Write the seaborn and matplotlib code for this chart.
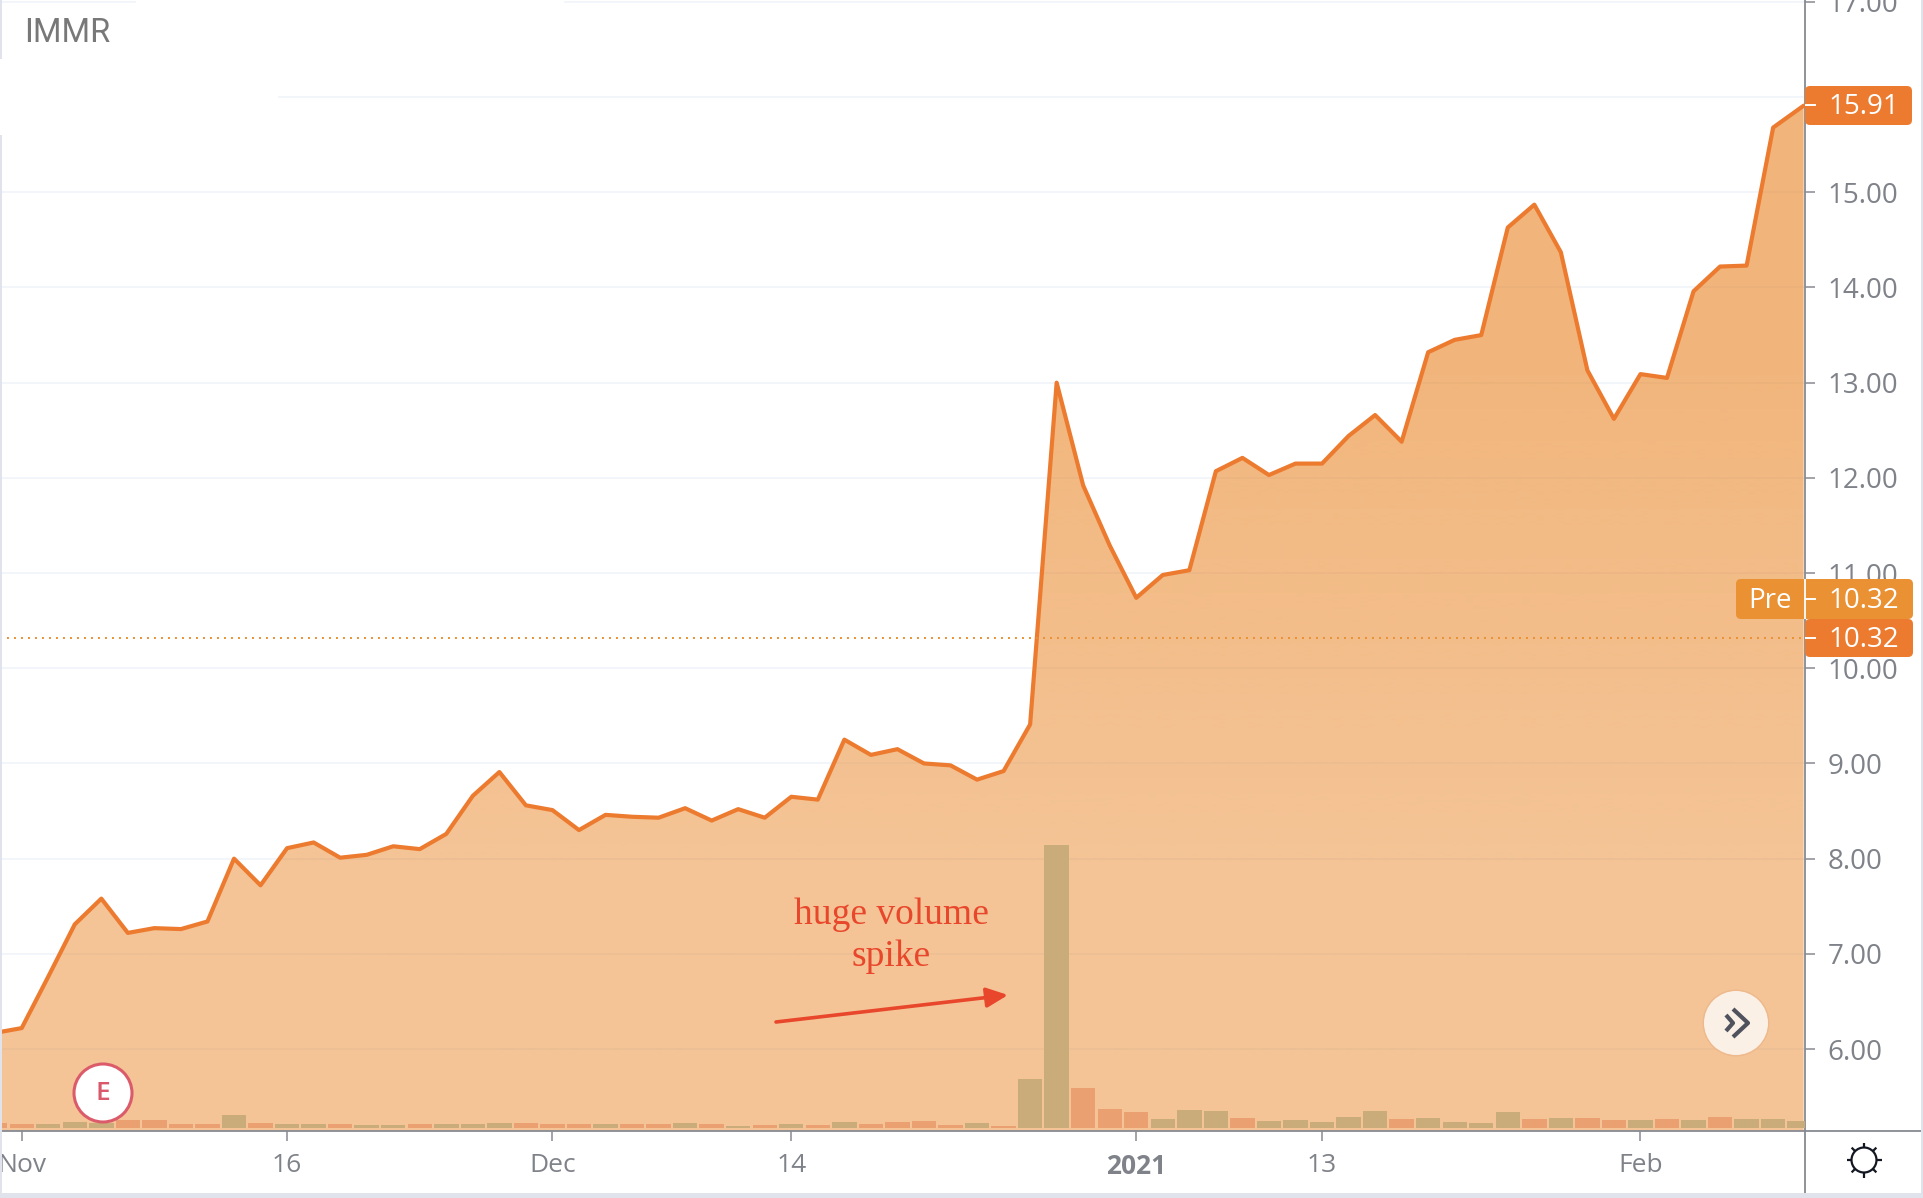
import numpy as np
import pandas as pd
import matplotlib
matplotlib.use('Agg')
import matplotlib.pyplot as plt
import seaborn as sns
from matplotlib.lines import Line2D
from matplotlib.patches import Circle, FancyArrowPatch, FancyBboxPatch, Rectangle
from matplotlib.transforms import IdentityTransform

# Closing prices, one per trading day (day 0 is the Nov tick)
price_days = list(range(-1, 67)) + [67.15]
price = [6.17, 6.22, 6.76, 7.31, 7.58, 7.22, 7.27, 7.26, 7.34, 8.00,
         7.72, 8.11, 8.17, 8.01, 8.04, 8.13, 8.10, 8.26, 8.66, 8.91,
         8.56, 8.51, 8.30, 8.46, 8.44, 8.43, 8.53, 8.40, 8.52, 8.43,
         8.65, 8.62, 9.25, 9.09, 9.15, 9.00, 8.98, 8.83, 8.92, 9.41,
         13.00, 11.92, 11.29, 10.74, 10.98, 11.03, 12.07, 12.21, 12.03, 12.15,
         12.15, 12.44, 12.66, 12.38, 13.32, 13.45, 13.50, 14.63, 14.87, 14.37,
         13.13, 12.62, 13.09, 13.05, 13.96, 14.22, 14.23, 15.68, 15.91]

# Volume (relative), same days as the prices
volume_days = list(range(-1, 68))
volume = [5, 4, 4, 6, 5, 8, 8, 4, 4, 13,
          5, 4, 4, 4, 3, 3, 4, 4, 4, 5,
          5, 4, 4, 4, 4, 4, 5, 4, 2.5, 3,
          4, 3, 6, 4, 6, 7, 3, 5, 2, 49,
          283, 40, 19.5, 16, 9.5, 18, 17, 10, 7, 8,
          6, 11.5, 17, 9, 10.5, 6, 5, 16, 9.5, 10,
          10.5, 8, 8, 9.5, 8, 11.5, 9.5, 9.5, 7]
volume_kind = ['down', 'down', 'up', 'up', 'up', 'down', 'down', 'down', 'down', 'up',
               'down', 'up', 'up', 'down', 'up', 'up', 'down', 'up', 'up', 'up',
               'down', 'down', 'down', 'up', 'down', 'down', 'up', 'down', 'up', 'down',
               'up', 'down', 'up', 'down', 'down', 'down', 'down', 'up', 'down', 'up',
               'up', 'down', 'down', 'down', 'up', 'up', 'up', 'down', 'up', 'up',
               'up', 'up', 'up', 'down', 'up', 'up', 'up', 'up', 'down', 'up',
               'down', 'down', 'up', 'down', 'up', 'down', 'up', 'up', 'up']

x_tick_days = [0, 10, 20, 29, 42, 49, 61]
x_tick_labels = ['Nov', '16', 'Dec', '14', '2021', '13', 'Feb']
y_ticks = [6, 7, 8, 9, 10, 11, 12, 13, 14, 15, 16, 17]
y_tick_labels = ['6.00', '7.00', '8.00', '9.00', '10.00', '11.00', '12.00',
                 '13.00', '14.00', '15.00', '', '17.00']
last_price = 10.32

W, H = 1924, 1198
AXIS_X, AXIS_Y = 1805, 1131
GREY = '#7f8289'
LINE = '#878a91'
ORANGE = '#ec7b2f'
AMBER = '#e99133'
BORDER = '#e0e3eb'
PIXELS = IdentityTransform()

sns.set_theme(style='white')
plt.rcParams['font.family'] = ['Open Sans', 'DejaVu Sans']

fig = plt.figure(figsize=(W / 100, H / 100), dpi=100, facecolor='white')
ax = fig.add_axes([0, 1 - AXIS_Y / H, AXIS_X / W, AXIS_Y / H])
xlim = (-0.818, 67.2)
ylim = (5.139, 17.02)

# Area under the price with a vertical gradient
area = ax.fill_between(price_days, price, ylim[0], color='none')
gradient = np.zeros((2, 1, 4))
gradient[..., :3] = np.array([232, 128, 28]) / 255
gradient[0, 0, 3] = 0.58
gradient[1, 0, 3] = 0.46
img = ax.imshow(gradient, extent=(xlim[0], xlim[1], ylim[0], 15.9), origin='upper',
                aspect='auto', interpolation='bilinear', zorder=1)
img.set_clip_path(area.get_paths()[0], transform=ax.transData)

sns.lineplot(x=price_days, y=price, color=ORANGE, linewidth=3.0, sort=False,
             errorbar=None, ax=ax, zorder=3)
ax.axhline(last_price, color=AMBER, linewidth=1.4, linestyle=(0, (1, 2.6)), zorder=3)

# Volume bars on their own scale
vol_df = pd.DataFrame({'day': volume_days, 'volume': volume, 'kind': volume_kind})
ax2 = ax.twinx()
sns.barplot(data=vol_df, x='day', y='volume', hue='kind', native_scale=True, dodge=False,
            palette={'up': '#c9ac7a', 'down': '#eba071'}, saturation=1, width=0.92,
            linewidth=0, edgecolor='none', legend=False, ax=ax2)
ax2.set_ylim(-3, 1128)
ax2.set_yticks([])
ax2.set_ylabel('')
ax2.grid(False)
for spine in ax2.spines.values():
    spine.set_visible(False)

# twinx puts the price ticks back on the left, so do the ticks after it
ax.set_xticks(x_tick_days, x_tick_labels)
ax.set_yticks(y_ticks, y_tick_labels)
ax.yaxis.tick_right()
ax.tick_params(axis='y', length=7.2, width=1.1, color=LINE, labelcolor=GREY,
               labelsize=20, pad=9, left=False, right=True)
ax.tick_params(axis='x', length=7.2, width=1.1, color=LINE, labelcolor=GREY,
               labelsize=19, pad=9, bottom=True)
ax.get_xticklabels()[4].set_fontweight('bold')
ax.grid(axis='y', color='#f0f3fa', linewidth=1.2)
ax.set_axisbelow(True)
for side in ['top', 'left']:
    ax.spines[side].set_visible(False)
for side in ['right', 'bottom']:
    ax.spines[side].set_color(LINE)
    ax.spines[side].set_linewidth(1.3)
ax.set_xlim(*xlim)
ax.set_ylim(*ylim)


def add_rect(x0, y0, x1, y1, color):
    fig.add_artist(Rectangle((x0, H - y1), x1 - x0, y1 - y0, facecolor=color,
                             edgecolor='none', transform=PIXELS))


def add_line(xs, ys, color, lw):
    fig.add_artist(Line2D(xs, [H - y for y in ys], color=color, linewidth=lw,
                          transform=PIXELS, solid_capstyle='butt'))


def add_text(x, y, s, **kw):
    fig.text(x, H - y, s, transform=PIXELS, ha='center', va='center', **kw)


def add_tag(x0, y0, x1, y1, color):
    fig.add_artist(FancyBboxPatch((x0, H - y1), x1 - x0, y1 - y0,
                                  boxstyle='round,pad=0,rounding_size=5',
                                  facecolor=color, edgecolor='none', transform=PIXELS))


# Screenshot frame and the white patches round the ticker
add_rect(0, 0, 1.5, 1193, BORDER)
add_rect(1921, 0, W, H, BORDER)
add_rect(0, 1193, W, H, BORDER)
add_rect(0, 59, 4, 135, 'white')
add_rect(0, 90, 278, 104, 'white')
add_rect(136, 0, 564, 5, 'white')
add_line([AXIS_X, AXIS_X], [AXIS_Y, 1193], LINE, 1.3)
add_line([AXIS_X, 1921], [AXIS_Y, AXIS_Y], LINE, 1.3)
fig.text(24, H - 42, 'IMMR', transform=PIXELS, color='#787878', fontsize=23.5,
         family=['Roboto', 'DejaVu Sans'], ha='left', va='baseline')

# Price tags
add_tag(1805, 86, 1912, 125, ORANGE)
add_tag(1736, 579, 1913, 619, AMBER)
add_tag(1805, 619, 1913, 657, ORANGE)
add_line([1805, 1805], [579, 619], 'white', 1.3)
for tag_y, tag_text in [(105, '15.91'), (599, '10.32'), (638, '10.32')]:
    add_line([1805, 1816], [tag_y, tag_y], 'white', 1.4)
    add_text(1864, tag_y + 2, tag_text, color='white', fontsize=20)
add_text(1770, 601, 'Pre', color='white', fontsize=20)

# Annotation
add_text(891, 936, 'huge volume\nspike', color='#e8472b', fontsize=27, linespacing=1.27,
         family=['Liberation Serif', 'DejaVu Serif'])
fig.add_artist(FancyArrowPatch((776, H - 1022), (1008, H - 995), transform=PIXELS,
                               arrowstyle='-|>,head_length=13,head_width=6', mutation_scale=1,
                               color='#e8472b', linewidth=2.6, shrinkA=0, shrinkB=0))

# Earnings marker
fig.add_artist(Circle((103, H - 1093), 29, facecolor='white', edgecolor='#dc5b6b',
                      linewidth=2.2, transform=PIXELS))
add_text(103, 1094, 'E', color='#d9596a', fontsize=19, fontweight='semibold')

# Scroll button
fig.add_artist(Circle((1736, H - 1023), 33.5, facecolor='#eeb98c', edgecolor='none', transform=PIXELS))
fig.add_artist(Circle((1736, H - 1023), 32, facecolor='#fbf0e6', edgecolor='none', transform=PIXELS))
add_line([1726, 1733, 1726], [1015, 1023, 1031], '#50535e', 3.0)
add_line([1733, 1748, 1733], [1009, 1023, 1037], '#50535e', 3.0)

# Settings sun icon
fig.add_artist(Circle((1864, H - 1160), 12.5, facecolor='none', edgecolor='#131722',
                      linewidth=1.6, transform=PIXELS))
for angle in np.deg2rad(np.arange(0, 360, 45)):
    add_line([1864 + 12.5 * np.cos(angle), 1864 + 17.5 * np.cos(angle)],
             [1160 + 12.5 * np.sin(angle), 1160 + 17.5 * np.sin(angle)], '#131722', 1.6)

plt.savefig('out.png', dpi=100)
